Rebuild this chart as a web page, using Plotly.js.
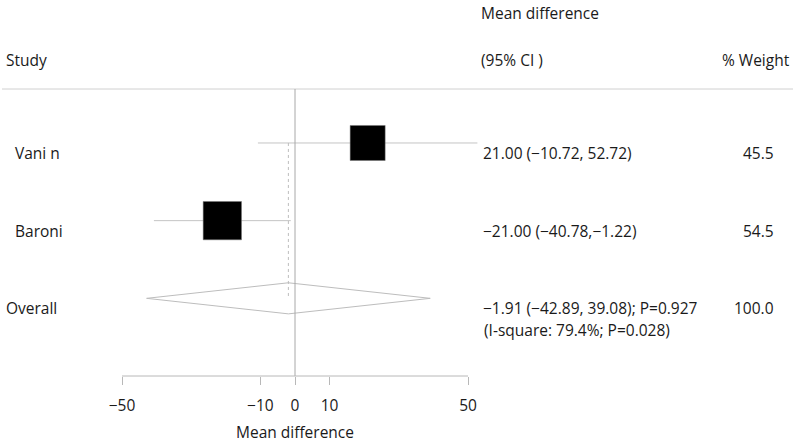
<!DOCTYPE html>
<html>
<head>
<meta charset="utf-8">
<script src="https://cdn.plot.ly/plotly-3.0.1.min.js"></script>
<style>html,body{margin:0;padding:0;background:#fff;}#chart{width:800px;height:443px;}</style>
</head>
<body>
<div id="chart"></div>
<script>
// ---- data ----
const studies = ['Vani n', 'Baroni'];
const meanDiff = [21.00, -21.00];
const ciLow = [-10.72, -40.78];
const ciHigh = [52.72, -1.22];
const weights = [45.5, 54.5];
const weightLabels = ['45.5', '54.5'];
const ciLabels = ['21.00 (\u221210.72, 52.72)', '\u221221.00 (\u221240.78,\u22121.22)'];
const overallLabel = 'Overall';
const overallMd = -1.91;
const overallLow = -42.89;
const overallHigh = 39.08;
const overallCiLabel = '\u22121.91 (\u221242.89, 39.08); P=0.927';
const overallHetLabel = ' (I-square: 79.4%; P=0.028)';
const overallWeightLabel = '100.0';
const tickVals = [-50, -10, 0, 10, 50];
const headerStudy = 'Study';
const headerMD = 'Mean difference';
const headerCI = '(95% CI )';
const headerWeight = '% Weight';
const xTitle = 'Mean difference';

// ---- layout helpers ----
const W = 800, H = 443;
const FONT = 'Open Sans, Noto Sans, sans-serif';
const FS = 15.5;
const TXT = '#1a1a1a';
const rowY = studies.map((_, i) => i + 1);
const overallY = studies.length + 1;
const px = v => v / W;

const traces = [];
// CI lines
studies.forEach((s, i) => {
  traces.push({
    x: [ciLow[i], ciHigh[i]], y: [rowY[i], rowY[i]],
    mode: 'lines', line: {color: '#c4c4c4', width: 1},
    hoverinfo: 'skip', showlegend: false, cliponaxis: false
  });
});
// dotted overall line
traces.push({
  x: [overallMd, overallMd], y: [rowY[0], overallY],
  mode: 'lines', line: {color: '#bdbdbd', width: 1, dash: 'dot'},
  hoverinfo: 'skip', showlegend: false
});
// squares
traces.push({
  x: meanDiff, y: rowY, mode: 'markers',
  marker: {symbol: 'square', color: '#000', opacity: 1, size: weights.map(w => 5.19 * Math.sqrt(w)),
           line: {color: '#777', width: 0.5}},
  hoverinfo: 'skip', showlegend: false
});
// diamond
const dh = 0.2;
traces.push({
  x: [overallLow, overallMd, overallHigh, overallMd, overallLow],
  y: [overallY, overallY - dh, overallY, overallY + dh, overallY],
  mode: 'lines', line: {color: '#bdbdbd', width: 1},
  hoverinfo: 'skip', showlegend: false
});

const ann = [];
const addA = (text, x, y, xanchor, yref, yshift) => ann.push({
  text, x, y, xref: 'paper', yref: yref, xanchor, yanchor: 'middle',
  showarrow: false, yshift: yshift || 0, font: {family: FONT, size: FS, color: TXT}
});
// headers
addA(headerMD, px(479), 1.266, 'left', 'paper');
addA(headerStudy, px(4), 1.101, 'left', 'paper');
addA(headerCI, px(479), 1.101, 'left', 'paper');
addA(headerWeight, px(792), 1.101, 'right', 'paper');
// rows
studies.forEach((s, i) => {
  addA(s, px(13), rowY[i], 'left', 'y', -10);
  addA(ciLabels[i], px(481), rowY[i], 'left', 'y', -10);
  addA(weightLabels[i], px(776), rowY[i], 'right', 'y', -10);
});
addA(overallLabel, px(4), overallY, 'left', 'y', -10);
addA(overallCiLabel, px(481), overallY, 'left', 'y', -10);
addA(overallHetLabel, px(478), overallY, 'left', 'y', -32);
addA(overallWeightLabel, px(776), overallY, 'right', 'y', -10);
// x title
ann.push({text: xTitle, x: 0, y: -0.195, xref: 'x', yref: 'paper', xanchor: 'center', yanchor: 'middle',
  showarrow: false, font: {family: FONT, size: FS, color: TXT}});

const shapes = [
  // header separator
  {type: 'line', xref: 'paper', yref: 'paper', x0: px(2), x1: px(793), y0: 1, y1: 1,
   line: {color: '#d0d0d0', width: 1}},
  // no-effect line
  {type: 'line', xref: 'x', yref: 'paper', x0: 0, x1: 0, y0: 0, y1: 1,
   line: {color: '#a8a8a8', width: 1}},
  // axis line
  {type: 'line', xref: 'x', yref: 'paper', x0: tickVals[0], x1: tickVals[tickVals.length - 1], y0: 0, y1: 0,
   line: {color: '#b8b8b8', width: 1}}
];

const layout = {
  width: W, height: H,
  margin: {l: 0, r: 0, t: 89, b: 67, pad: 0},
  paper_bgcolor: '#fff', plot_bgcolor: '#fff',
  showlegend: false,
  xaxis: {
    range: [-295 / 3.46, 505 / 3.46], tickvals: tickVals, ticktext: tickVals.map(v => v < 0 ? '\u2212' + Math.abs(v) : String(v)),
    ticks: 'outside', ticklen: 8, tickcolor: '#b8b8b8', tickwidth: 1, ticklabelstandoff: 7,
    showgrid: false, zeroline: false, showline: false,
    tickfont: {family: FONT, size: FS, color: TXT}, fixedrange: true
  },
  yaxis: {range: [4.0, 0.305], visible: false, showgrid: false, zeroline: false, fixedrange: true},
  shapes, annotations: ann
};

Plotly.newPlot('chart', traces, layout, {staticPlot: true, displayModeBar: false});
</script>
</body>
</html>
